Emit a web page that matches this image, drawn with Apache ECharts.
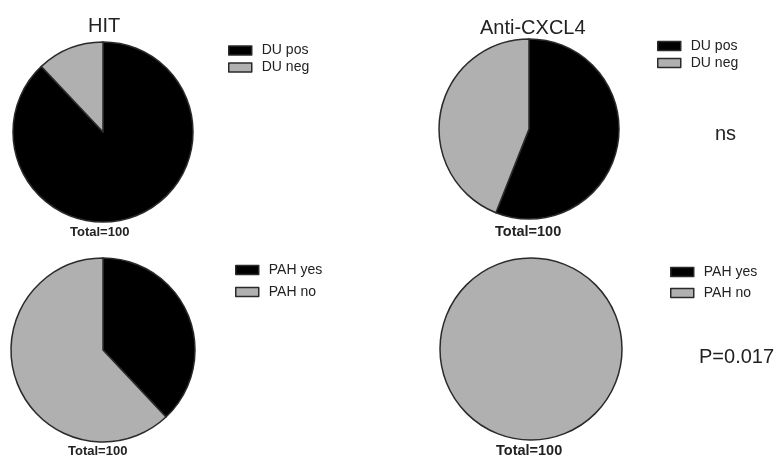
<!DOCTYPE html>
<html>
<head>
<meta charset="utf-8">
<script src="https://cdn.jsdelivr.net/npm/echarts@6/dist/echarts.min.js"></script>
<style>
  html, body { margin: 0; padding: 0; background: #fff; }
  #chart { width: 776px; height: 457px; }
</style>
</head>
<body>
<div id="chart"></div>
<script>
// Group headings
const groupTitles = ['HIT', 'Anti-CXCL4'];

// Top row: DU status
const duNames = ['DU pos', 'DU neg'];
const duHIT = [88, 12];
const duCXCL4 = [56, 44];

// Bottom row: PAH status
const pahNames = ['PAH yes', 'PAH no'];
const pahHIT = [38, 62];
const pahCXCL4 = [0, 100];

const totalLabel = 'Total=100';
const testLabels = ['ns', 'P=0.017'];

const sliceColors = ['#000000', '#b0b0b0'];
const edgeColor = '#2a2a2a';
const fontFamily = '"Liberation Sans", Arial, sans-serif';

function pieSeries(names, values, center, radius) {
  return {
    type: 'pie',
    center: center,
    radius: radius,
    startAngle: 90,
    clockwise: true,
    silent: true,
    animation: false,
    label: { show: false },
    labelLine: { show: false },
    itemStyle: { borderColor: edgeColor, borderWidth: 1.5 },
    data: names.map((n, i) => ({
      name: n,
      value: values[i],
      itemStyle: {
        color: sliceColors[i],
        borderWidth: values[i] === 0 ? 0 : 1.5
      }
    }))
  };
}

function legend(names, left, top, gap) {
  return {
    orient: 'vertical',
    left: left,
    top: top,
    padding: 0,
    itemGap: gap,
    itemWidth: 23,
    itemHeight: 9,
    icon: 'rect',
    selectedMode: false,
    data: names,
    itemStyle: { borderColor: edgeColor, borderWidth: 1.5 },
    textStyle: {
      fontFamily: fontFamily, fontSize: 14, color: '#222',
      padding: [0, 0, 0, 5]
    }
  };
}

function textTitle(text, x, y, size, bold) {
  return {
    text: text,
    left: x,
    top: y,
    padding: 0,
    textStyle: {
      fontFamily: fontFamily,
      fontSize: size,
      fontWeight: bold ? 'bold' : 'normal',
      color: '#222'
    }
  };
}

const chart = echarts.init(document.getElementById('chart'), null, { renderer: 'canvas' });

chart.setOption({
  backgroundColor: '#ffffff',
  animation: false,
  title: [
    textTitle(groupTitles[0], 88, 16, 20, false),
    textTitle(groupTitles[1], 480, 18, 20, false),
    textTitle(totalLabel, 70, 225.5, 13, true),
    textTitle(totalLabel, 495, 224, 14.5, true),
    textTitle(totalLabel, 68, 444.5, 13, true),
    textTitle(totalLabel, 496, 443, 14.5, true),
    textTitle(testLabels[0], 715, 124, 20, false),
    textTitle(testLabels[1], 699, 347, 20, false)
  ],
  legend: [
    legend(duNames, 228, 43.5, 3),
    legend(duNames, 657, 39, 3),
    legend(pahNames, 235, 263, 8),
    legend(pahNames, 670, 265, 7)
  ],
  series: [
    pieSeries(duNames, duHIT, [103, 132], 90),
    pieSeries(duNames, duCXCL4, [529, 129], 90),
    pieSeries(pahNames, pahHIT, [103, 350], 92),
    pieSeries(pahNames, pahCXCL4, [531, 349], 91)
  ]
});
</script>
</body>
</html>
